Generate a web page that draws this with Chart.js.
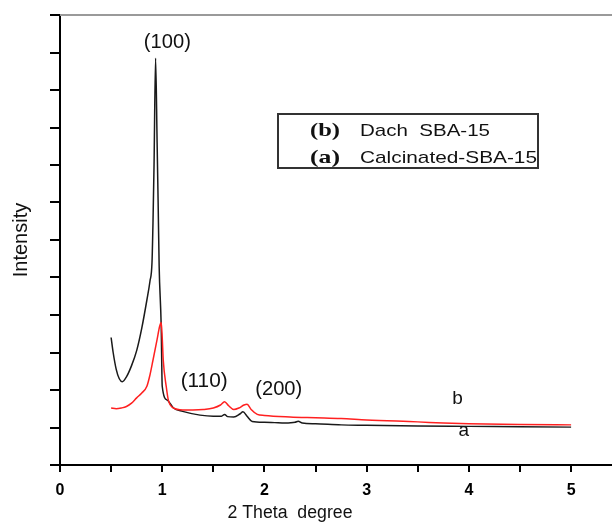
<!DOCTYPE html>
<html>
<head>
<meta charset="utf-8">
<script src="https://cdn.jsdelivr.net/npm/chart.js@4.4.1/dist/chart.umd.min.js"></script>
<style>
  body { margin: 0; background: #fff; }
  #wrap { width: 612px; height: 526px; }
</style>
</head>
<body>
<div id="wrap"><canvas id="xrd" width="612" height="526"></canvas></div>
<script>
// (a) Calcinated-SBA-15 -> black, (b) Dach SBA-15 -> red
var seriesTags = ['(a)', '(b)'];
var seriesNames = ['Calcinated-SBA-15', 'Dach  SBA-15'];
var curveLetters = ['a', 'b'];
var peakNames = ['(100)', '(110)', '(200)'];
var xTickLabels = ['0', '1', '2', '3', '4', '5'];
var xTitle = '2 Theta  degree';
var yTitle = 'Intensity';

var xA = [0.50, 0.52, 0.55, 0.58, 0.61, 0.65, 0.70, 0.75, 0.80, 0.85, 0.88, 0.90, 0.91, 0.92, 0.935,
  0.95, 0.96, 0.97, 0.99, 1.00, 1.05, 1.11, 1.20, 1.37, 1.50, 1.58, 1.61, 1.64, 1.70, 1.76,
  1.79, 1.83, 1.88, 2.00, 2.10, 2.20, 2.30, 2.33, 2.37, 2.50, 2.75, 3.00, 3.50, 4.00, 4.50, 5.00];
var yA = [3.40, 3.00, 2.55, 2.30, 2.22, 2.35, 2.65, 3.05, 3.65, 4.40, 4.90, 5.40, 6.50, 8.00, 10.85,
  8.60, 7.00, 5.30, 3.70, 2.10, 1.73, 1.52, 1.43, 1.33, 1.30, 1.30, 1.35, 1.29, 1.28, 1.36,
  1.42, 1.30, 1.16, 1.14, 1.13, 1.12, 1.14, 1.17, 1.12, 1.10, 1.07, 1.06, 1.04, 1.03, 1.02, 1.01];

var xB = [0.50, 0.55, 0.60, 0.65, 0.70, 0.75, 0.80, 0.85, 0.88, 0.91, 0.95, 0.975, 0.99, 1.00,
  1.01, 1.04, 1.06, 1.11, 1.20, 1.30, 1.40, 1.50, 1.57, 1.61, 1.65, 1.70, 1.75, 1.80, 1.83,
  1.87, 1.93, 2.00, 2.25, 2.50, 2.75, 3.00, 3.50, 3.75, 4.00, 4.50, 5.00];
var yB = [1.52, 1.50, 1.52, 1.56, 1.65, 1.79, 1.92, 2.10, 2.40, 2.80, 3.35, 3.70, 3.80, 3.40,
  2.80, 2.08, 1.73, 1.52, 1.47, 1.47, 1.48, 1.52, 1.60, 1.69, 1.58, 1.48, 1.52, 1.60, 1.62,
  1.48, 1.35, 1.32, 1.28, 1.26, 1.24, 1.20, 1.15, 1.12, 1.10, 1.08, 1.07];

function toPoints(xs, ys) {
  return xs.map(function (x, i) { return { x: x, y: ys[i] }; });
}

// the figure's lettering is a bit wider than Arial, so squeeze/stretch to width
function wideText(ctx, text, x, y, width) {
  var w = ctx.measureText(text).width;
  ctx.save();
  ctx.translate(x, y);
  ctx.scale(width / w, 1);
  ctx.fillText(text, 0, 0);
  ctx.restore();
}

var extras = {
  id: 'extras',
  afterDraw: function (chart) {
    var ctx = chart.ctx;
    var area = chart.chartArea;
    var sx = chart.scales.x, sy = chart.scales.y;
    ctx.save();
    // top frame line
    ctx.strokeStyle = '#9a9a9a';
    ctx.lineWidth = 2;
    ctx.beginPath();
    ctx.moveTo(area.left, area.top);
    ctx.lineTo(area.right, area.top);
    ctx.stroke();

    // x title sits left of the plot centre in the original
    ctx.fillStyle = '#111';
    ctx.textAlign = 'center';
    ctx.textBaseline = 'middle';
    ctx.font = '18px Arial, "Liberation Sans"';
    wideText(ctx, xTitle, 290, 513, 125);

    // peak labels and curve letters, placed in data units
    ctx.font = '20px Arial, "Liberation Sans"';
    var peakAt = [[1.05, 11.28], [1.41, 2.24], [2.14, 2.02]];
    peakNames.forEach(function (t, i) {
      wideText(ctx, t, sx.getPixelForValue(peakAt[i][0]), sy.getPixelForValue(peakAt[i][1]), 47);
    });
    ctx.font = '19px Arial, "Liberation Sans"';
    var letterAt = [[3.95, 0.9], [3.89, 1.76]];
    curveLetters.forEach(function (t, i) {
      ctx.fillText(t, sx.getPixelForValue(letterAt[i][0]), sy.getPixelForValue(letterAt[i][1]));
    });

    // boxed legend
    ctx.strokeStyle = '#333';
    ctx.lineWidth = 2;
    ctx.strokeRect(278, 114, 260, 54);
    ctx.textAlign = 'left';
    ctx.textBaseline = 'alphabetic';
    var rows = [1, 0];
    var nameW = [177, 130];
    rows.forEach(function (k, r) {
      var base = 136 + r * 27;
      ctx.font = 'bold 19px "Liberation Serif", "DejaVu Serif", serif';
      wideText(ctx, seriesTags[k], 310, base, 30);
      ctx.font = '17px Arial, "Liberation Sans"';
      wideText(ctx, seriesNames[k], 360, base, nameW[k]);
    });
    ctx.restore();
  }
};

new Chart(document.getElementById('xrd'), {
  type: 'line',
  data: {
    datasets: [{
      label: seriesNames[1],
      data: toPoints(xB, yB),
      borderColor: '#ff2020',
      borderWidth: 1.5,
      pointRadius: 0,
      cubicInterpolationMode: 'monotone'
    }, {
      label: seriesNames[0],
      data: toPoints(xA, yA),
      borderColor: '#1a1a1a',
      borderWidth: 1.5,
      pointRadius: 0,
      cubicInterpolationMode: 'monotone'
    }]
  },
  options: {
    responsive: false,
    animation: false,
    layout: { padding: { top: 15, right: 0, left: 0, bottom: 0 } },
    plugins: {
      legend: { display: false },
      tooltip: { enabled: false }
    },
    scales: {
      x: {
        type: 'linear',
        min: 0,
        max: 5.4,
        afterFit: function (s) { s.height = 61; },
        afterBuildTicks: function (s) {
          var t = [];
          for (var i = 0; i <= 10; i++) t.push({ value: i / 2 });
          s.ticks = t;
        },
        border: { color: '#000', width: 2 },
        grid: {
          drawOnChartArea: false,
          tickLength: 7,
          lineWidth: 2,
          color: '#000'
        },
        ticks: {
          autoSkip: false,
          maxRotation: 0,
          padding: 9,
          color: '#000',
          font: { family: 'Arial', size: 16, weight: 'bold' },
          callback: function (v) {
            return Number.isInteger(v) ? xTickLabels[v] : '';
          }
        },
        title: { display: false, text: xTitle }
      },
      y: {
        min: 0,
        max: 12,
        afterFit: function (s) { s.width = 60; },
        border: { color: '#000', width: 2 },
        grid: { drawOnChartArea: false, tickLength: 10, lineWidth: 2, color: '#000' },
        ticks: { stepSize: 1, callback: function () { return ''; } },
        title: {
          display: true,
          text: yTitle,
          color: '#111',
          font: { family: 'Arial', size: 20 },
          padding: { top: 9, bottom: 0 }
        }
      }
    }
  },
  plugins: [extras]
});
</script>
</body>
</html>
